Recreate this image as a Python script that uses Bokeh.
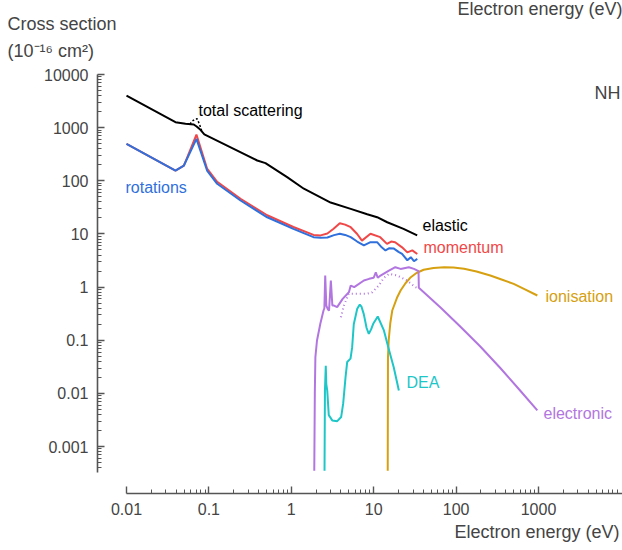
from bokeh.plotting import figure
from bokeh.models import Range1d, FixedTicker, CustomJSTickFormatter, Label, Title
from bokeh.embed import file_html
from bokeh.resources import INLINE

# ---------------- data ----------------
elastic_E = [0.01, 0.0393, 0.052, 0.0655, 0.071, 0.079, 0.088, 0.2, 0.386, 0.486,
             0.89, 1.42, 3.0, 5.26, 8.34, 11.0, 14.6, 23.0, 33.7]
elastic_S = [4020, 1270, 1180, 1150, 1050, 910, 750, 400, 241, 215,
             117, 71, 39, 29.7, 23.5, 20.7, 16.6, 12.5, 9.4]

total_E = [0.059, 0.0626, 0.068, 0.072, 0.077, 0.083]
total_S = [1170, 1325, 1450, 1470, 1150, 822]

rot_E = [0.01, 0.0393, 0.0497, 0.0706, 0.095, 0.126, 0.242, 0.51, 1.06, 1.86,
         2.27, 2.74, 3.3, 3.88, 4.5, 5.26, 6.3, 7.6, 9.14, 11.0, 12.5, 13.9,
         15.5, 17.6, 20.0, 22.1, 25.6, 28.2, 30.8, 33.8]
rot_S = [497, 156, 194, 617, 156, 88, 42.6, 20.6, 12.5, 8.7,
         8.5, 8.6, 9.5, 10.1, 9.6, 8.7, 7.2, 6.1, 7.0, 7.0, 5.6, 4.9,
         5.4, 5.3, 4.6, 4.2, 3.2, 3.65, 3.07, 3.4]

mom_E = [0.01, 0.0393, 0.0497, 0.0706, 0.095, 0.126, 0.242, 0.51, 1.06, 1.86,
         2.27, 2.74, 3.26, 3.88, 4.5, 5.26, 6.3, 7.2, 9.14, 12.0, 14.5, 16.3,
         18.2, 22.1, 25.6, 29.4, 33.8]
mom_S = [497, 156, 194, 743, 170, 96, 46, 22.5, 13.5, 9.6,
         9.4, 10.2, 12.5, 15.9, 15.0, 13.4, 10.0, 7.5, 10.1, 8.7, 6.5, 7.2,
         7.0, 5.6, 4.5, 4.9, 4.2]

elec_E = [1.90, 1.93, 1.96, 2.05, 2.25, 2.46, 2.52, 2.58, 2.66, 2.78, 2.87, 3.02, 3.15,
          3.3, 3.6, 4.2, 5.0, 5.26, 5.8, 7.6, 8.8, 10.0, 10.6, 11.2, 12.1, 15.3,
          18.3, 21.2, 26.7, 30.8, 35.0, 35.3, 64.7, 113, 198, 346, 605, 968]
elec_S = [0.00035, 0.01, 0.048, 0.099, 0.204, 0.363, 0.40, 1.65, 0.45, 0.38, 0.36, 1.33, 0.45,
          0.45, 0.42, 0.6, 0.8, 1.07, 1.0, 1.33, 1.43, 1.5, 1.9, 1.5, 1.65, 2.05,
          2.37, 2.2, 2.37, 2.2, 1.99, 0.97, 0.413, 0.179, 0.0753, 0.0297, 0.0111, 0.0048]

elec2_E = [4.0, 4.35, 4.97, 6.3, 8.3, 9.6, 11.5, 13.3, 15.4, 19.4, 25.4, 32.0, 35.4]
elec2_S = [0.27, 0.45, 0.75, 0.75, 0.75, 0.8, 1.07, 1.5, 1.78, 1.65, 1.33, 1.0, 0.93]

dea_E = [2.53, 2.56, 2.62, 2.66, 2.73, 2.85, 3.14, 3.61, 4.03, 4.26, 4.55, 4.77, 5.23,
         5.48, 5.73, 6.31, 6.78, 7.1, 7.58, 8.2, 8.72, 9.3, 9.86, 11.2, 13.3, 15.2,
         17.5, 20.2]
dea_S = [0.00035, 0.0113, 0.033, 0.015, 0.0113, 0.0039, 0.0031, 0.0030, 0.0036, 0.0064,
         0.020, 0.039, 0.045, 0.074, 0.2, 0.39, 0.47, 0.43, 0.31, 0.17, 0.132, 0.16,
         0.204, 0.28, 0.153, 0.069, 0.031, 0.0113]

ion_E = [14.8, 14.9, 15.2, 15.9, 16.8, 19.3, 21.2, 24.3, 28.2, 33.0, 40.4, 53.2,
         71.5, 92.9, 125, 177, 260, 356, 500, 695, 968]
ion_S = [0.00035, 0.048, 0.099, 0.21, 0.363, 0.646, 0.863, 1.18, 1.535, 1.84, 2.12, 2.29,
         2.37, 2.34, 2.21, 1.97, 1.65, 1.39, 1.15, 0.90, 0.695]

x_ticks = [0.01, 0.1, 1, 10, 100, 1000]
y_ticks = [0.001, 0.01, 0.1, 1, 10, 100, 1000, 10000]

# ---------------- layout helpers (pixel <-> data) ----------------
X0_PX, DEC_X = 126.0, 82.4     # pixel of E = 0.01, pixels per decade
Y1_PX, DEC_Y = 286.6, 53.14    # pixel of sigma = 1, pixels per decade


def px_E(px):
    return 10 ** ((px - X0_PX) / DEC_X - 2)


def px_S(py):
    return 10 ** ((Y1_PX - py) / DEC_Y)


W, H = 622, 550
LEFT, RIGHT, TOP, BOTTOM = 97, 622, 60, 493
FONT = "Liberation Sans"
GRAY = "#444444"

p = figure(width=W, height=H, x_axis_type="log", y_axis_type="log",
           x_range=Range1d(px_E(LEFT), px_E(RIGHT)),
           y_range=Range1d(px_S(BOTTOM), px_S(TOP)),
           output_backend="svg", toolbar_location=None,
           min_border_left=LEFT, min_border_right=W - RIGHT,
           min_border_top=TOP, min_border_bottom=H - BOTTOM)
p.outline_line_color = None
p.grid.visible = False
p.background_fill_color = "white"
p.border_fill_color = "white"

fmt = CustomJSTickFormatter(code="return tick.toString();")
x_bounds = (0.01, 1e5)
y_bounds = (0.00032, 10000)
x_minor = [m * 10.0 ** e for e in range(-2, 5) for m in range(2, 10)]
y_minor = [m * 10.0 ** e for e in range(-4, 4) for m in range(2, 10)
           if y_bounds[0] <= m * 10.0 ** e <= y_bounds[1]]

for ax, ticks, minor, bounds in ((p.xaxis[0], x_ticks, x_minor, x_bounds),
                                 (p.yaxis[0], y_ticks, y_minor, y_bounds)):
    ax.ticker = FixedTicker(ticks=ticks, minor_ticks=minor)
    ax.formatter = fmt
    ax.bounds = bounds
    ax.axis_line_color = "#555555"
    ax.axis_line_width = 1.6
    ax.major_tick_line_color = "#555555"
    ax.minor_tick_line_color = "#555555"
    ax.major_tick_line_width = 1.4
    ax.minor_tick_line_width = 1.0
    ax.major_tick_in = 7
    ax.major_tick_out = 0
    ax.minor_tick_in = 4
    ax.minor_tick_out = 0
    ax.major_label_text_font = FONT
    ax.major_label_text_font_size = "16px"
    ax.major_label_text_color = GRAY
    ax.major_label_standoff = 9

# ---------------- curves ----------------
p.line(ion_E, ion_S, line_color="#d6a010", line_width=2)
p.line(dea_E, dea_S, line_color="#1ec6c8", line_width=2)
p.line(elec2_E, elec2_S, line_color="#b276e0", line_width=2, line_dash="1 3")
p.line(elec_E, elec_S, line_color="#b276e0", line_width=2)
p.line(mom_E, mom_S, line_color="#f04848", line_width=2)
p.line(rot_E, rot_S, line_color="#3070dc", line_width=2)
p.line(elastic_E, elastic_S, line_color="black", line_width=2)
p.line(total_E, total_S, line_color="black", line_width=1.5, line_dash="2 2")


def lab(text, px, py, color=GRAY, size="16px", align="left"):
    """Label inside the frame at canvas pixel (px, py) (frame-relative screen units)."""
    p.add_layout(Label(x=px - LEFT, y=BOTTOM - py, x_units="screen", y_units="screen",
                       text=text, text_font=FONT, text_font_size=size,
                       text_color=color, text_align=align, text_baseline="middle"))


# curve labels
lab("elastic", 422, 225, "black")
lab("momentum", 423, 247, "#f04848")
lab("ionisation", 545, 296, "#d6a010")
lab("electronic", 543, 413, "#b276e0")
lab("DEA", 406, 382, "#1ec6c8")
lab("rotations", 125, 187, "#3070dc")
lab("total scattering", 198, 110, "black")
lab("NH", 620, 92, GRAY, "18px", "right")


def set_standoff(t, v, fallback=0):
    try:
        t.standoff = v
    except ValueError:
        t.standoff = fallback


def style(t):
    t.text_font = FONT
    t.text_font_size = "18px"
    t.text_font_style = "normal"
    t.text_color = GRAY


# caption of the chart above (top right corner) -> farthest from the frame
t_top = p.title
t_top.text = "Electron energy (eV)"
t_top.align = "right"
t_top.vertical_align = "bottom"
t_top.offset = 0
style(t_top)
set_standoff(t_top, -15)

# y-axis title (two lines, just above the frame, at the left edge of the picture)
t_y = Title(text="Cross section\n(10\u207b\u00b9\u2076 cm\u00b2)", align="left",
            vertical_align="bottom", offset=-90, text_line_height=1.35)
style(t_y)
set_standoff(t_y, 0)
p.add_layout(t_y, "above")

# x-axis title, right aligned under the axis
t_x = Title(text="Electron energy (eV)", align="right", vertical_align="bottom", offset=3)
style(t_x)
set_standoff(t_x, 4)
p.add_layout(t_x, "below")

open("out.html", "w").write(file_html(p, INLINE))
